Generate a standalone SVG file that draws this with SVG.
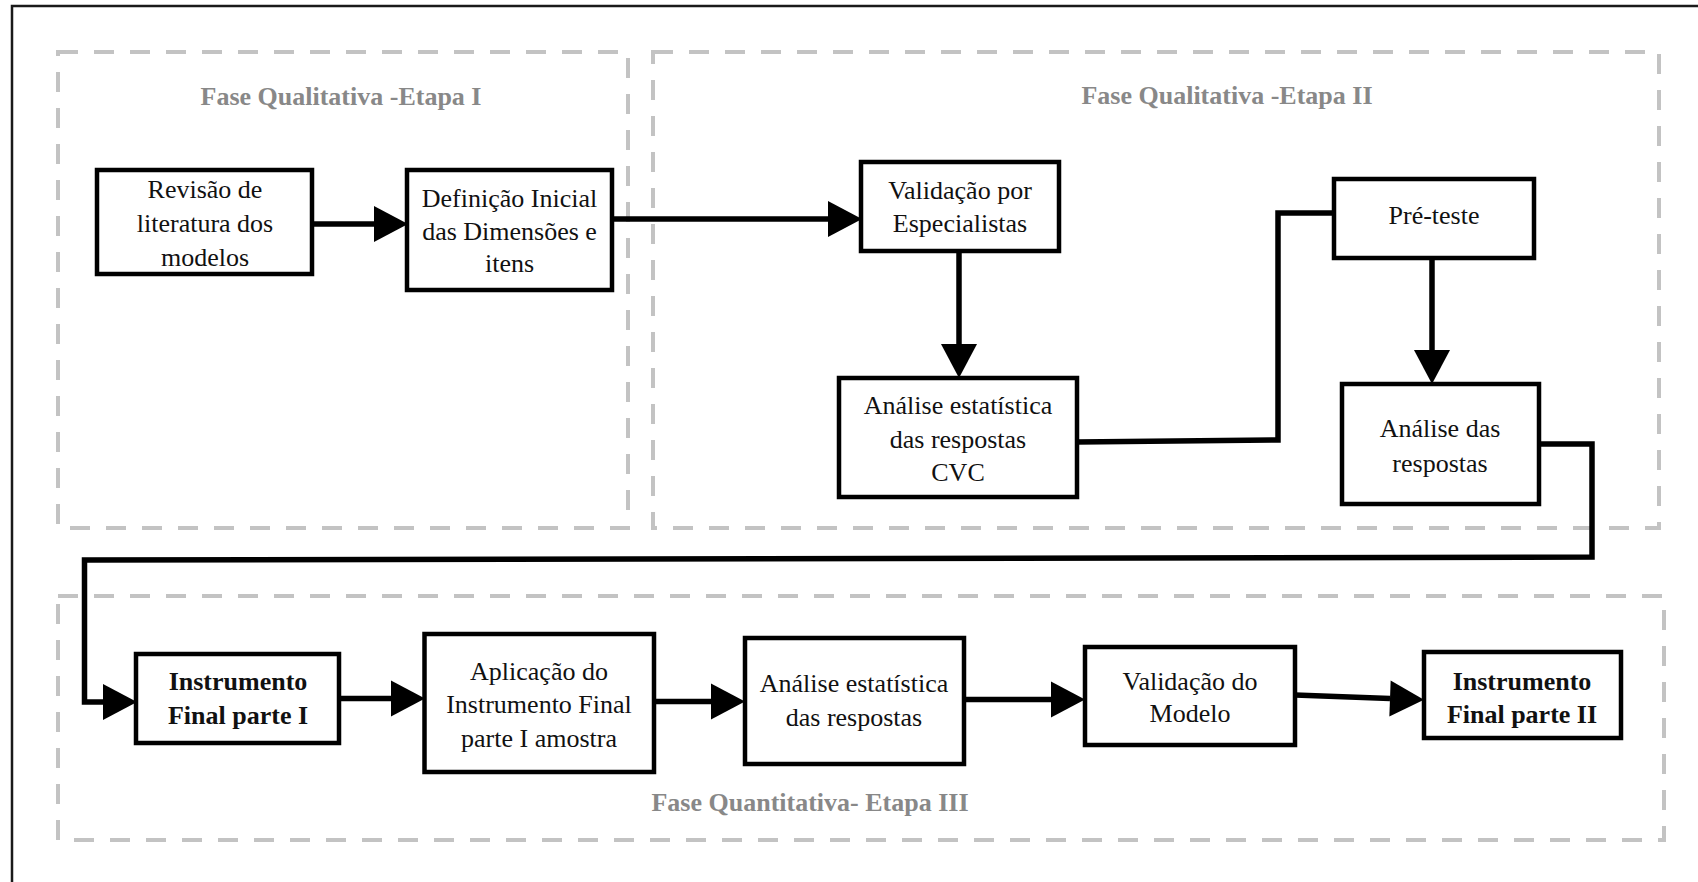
<svg xmlns="http://www.w3.org/2000/svg" width="1698" height="882" viewBox="0 0 1698 882">
<style>
.frame{fill:none;stroke:#1a1a1a;stroke-width:2.5}
.phase{fill:none;stroke:#c3c3c3;stroke-width:4;stroke-dasharray:20 16}
.title{font-family:'Liberation Serif',serif;font-weight:700;font-size:26px;fill:#888888;text-anchor:middle}
.box{fill:#ffffff;stroke:#000000;stroke-width:4.5}
.t{font-family:'Liberation Serif',serif;font-weight:400;font-style:normal;font-size:26px;fill:#111111;text-anchor:middle}
.b{font-weight:700}
.conn{fill:none;stroke:#000000;stroke-width:5.5;stroke-linejoin:miter}
</style>
<defs>
<marker id="arr" markerUnits="userSpaceOnUse" markerWidth="34" markerHeight="36" refX="0" refY="18" orient="auto" overflow="visible">
<path d="M0,0 L34,18 L0,36 Z" fill="#000000"/>
</marker>
</defs>
<rect x="0" y="0" width="1698" height="882" fill="#ffffff"/>
<path class="frame" d="M12,882 L12,6 L1698,6"/>

<g id="phases">
<rect class="phase" x="58" y="52" width="570" height="476"/>
<rect class="phase" x="653" y="52" width="1006" height="476"/>
<rect class="phase" x="58" y="596" width="1606" height="244"/>
<text class="title" x="341" y="105">Fase Qualitativa -Etapa I</text>
<text class="title" x="1227" y="104">Fase Qualitativa -Etapa II</text>
<text class="title" x="810" y="811">Fase Quantitativa- Etapa III</text>
</g>

<g id="connectors">
<path class="conn" d="M312,224 L374,224" marker-end="url(#arr)"/>
<path class="conn" d="M612,219 L828,219" marker-end="url(#arr)"/>
<path class="conn" d="M959,251 L959,344" marker-end="url(#arr)"/>
<path class="conn" d="M1077,442 L1278,440 L1278,213 L1334,213"/>
<path class="conn" d="M1432,258 L1432,350" marker-end="url(#arr)"/>
<path class="conn" d="M1539,444 L1592,444 L1592,557 L84.5,560 L84.5,702 L103,702" marker-end="url(#arr)"/>
<path class="conn" d="M339,698.5 L391,698.5" marker-end="url(#arr)"/>
<path class="conn" d="M654,701.5 L711,701.5" marker-end="url(#arr)"/>
<path class="conn" d="M964,699.5 L1051,699.5" marker-end="url(#arr)"/>
<path class="conn" d="M1295,695 L1390,698.5" marker-end="url(#arr)"/>
</g>

<g id="n1">
<rect class="box" x="97" y="170" width="215" height="104"/>
<text class="t" x="205" y="198">Revisão de</text>
<text class="t" x="205" y="232">literatura dos</text>
<text class="t" x="205" y="266">modelos</text>
</g>
<g id="n2">
<rect class="box" x="407" y="170" width="205" height="120"/>
<text class="t" x="509.5" y="207">Definição Inicial</text>
<text class="t" x="509.5" y="240">das Dimensões e</text>
<text class="t" x="509.5" y="272">itens</text>
</g>
<g id="n3">
<rect class="box" x="861" y="162" width="198" height="89"/>
<text class="t" x="960" y="199">Validação por</text>
<text class="t" x="960" y="232">Especialistas</text>
</g>
<g id="n4">
<rect class="box" x="839" y="378" width="238" height="119"/>
<text class="t" x="958" y="414">Análise estatística</text>
<text class="t" x="958" y="448">das respostas</text>
<text class="t" x="958" y="481">CVC</text>
</g>
<g id="n5">
<rect class="box" x="1334" y="179" width="200" height="79"/>
<text class="t" x="1434" y="224">Pré-teste</text>
</g>
<g id="n6">
<rect class="box" x="1342" y="384" width="197" height="120"/>
<text class="t" x="1440" y="437">Análise das</text>
<text class="t" x="1440" y="472">respostas</text>
</g>
<g id="n7">
<rect class="box" x="136" y="654" width="203" height="89"/>
<text class="t b" x="238" y="690">Instrumento</text>
<text class="t b" x="238" y="724">Final parte I</text>
</g>
<g id="n8">
<rect class="box" x="424.5" y="634" width="229.5" height="138"/>
<text class="t" x="539" y="680">Aplicação do</text>
<text class="t" x="539" y="713">Instrumento Final</text>
<text class="t" x="539" y="747">parte I amostra</text>
</g>
<g id="n9">
<rect class="box" x="745" y="638" width="219" height="126"/>
<text class="t" x="854" y="692">Análise estatística</text>
<text class="t" x="854" y="726">das respostas</text>
</g>
<g id="n10">
<rect class="box" x="1085" y="647" width="210" height="98"/>
<text class="t" x="1190" y="690">Validação do</text>
<text class="t" x="1190" y="722">Modelo</text>
</g>
<g id="n11">
<rect class="box" x="1424" y="652" width="197" height="86"/>
<text class="t b" x="1522" y="690">Instrumento</text>
<text class="t b" x="1522" y="723">Final parte II</text>
</g>
</svg>
